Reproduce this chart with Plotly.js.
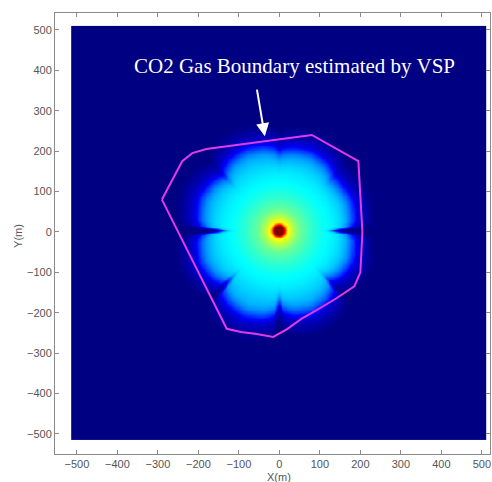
<!DOCTYPE html>
<html><head><meta charset="utf-8">
<script src="https://cdn.plot.ly/plotly-3.0.1.min.js"></script>
<style>html,body{margin:0;padding:0;background:#fff;}#chart{width:492px;height:482px;}</style>
</head><body><div id="chart"></div>
<script>
// ---- data ----
const tickValues = [-500, -400, -300, -200, -100, 0, 100, 200, 300, 400, 500];
const boundaryX = [-290, -240, -215, -180, 80, 195, 205, 200, 185, 140, 90, 55, 20, -15, -60, -95, -130, -290];
const boundaryY = [80, 175, 195, 205, 240, 175, 0, -100, -135, -165, -195, -215, -240, -260, -252, -248, -240, 80];
const plumeCenter = [-2, 4];
// value (0..1, jet) against radius relative to the local plume radius
const profileS = [0, 0.055, 0.07, 0.085, 0.1, 0.15, 0.25, 0.4, 0.55, 0.7, 0.8, 0.88, 0.94, 1.0, 1.05, 1.1, 1.2, 1.3];
const profileZ = [1.0, 1.0, 0.9, 0.75, 0.64, 0.57, 0.48, 0.42, 0.38, 0.355, 0.33, 0.3, 0.26, 0.19, 0.12, 0.07, 0.03, 0];
// plume edge radius (m) against direction (deg), with the dents between lobes and the two streaks at 0 and 180 deg
const lobeAngle = [0, 1, 2.8, 8, 22.5, 35, 42, 45, 48, 55, 67.5, 80, 87, 90, 93, 100, 112.5, 125, 132, 135, 138, 145, 157.5, 172, 177.2, 179, 180, 181, 182.8, 188, 202.5, 215, 222, 225, 228, 235, 247.5, 260, 267, 270, 273, 280, 292.5, 305, 312, 315, 318, 325, 337.5, 352, 357.2, 359, 360];
const lobeRadius = [132, 132, 174, 184, 190, 186, 186, 184, 192, 200, 205, 201, 196, 190, 200, 207, 212, 207, 197, 184, 192, 200, 205, 197, 186, 136, 136, 136, 186, 197, 205, 199, 189, 168, 204, 215, 222, 215, 204, 172, 195, 206, 212, 206, 195, 168, 177, 186, 192, 185, 175, 132, 132];
const gridStart = -512, gridStep = 4, gridCount = 256;
const labelText = 'CO2 Gas Boundary estimated by VSP';

// ---- build field ----
function interp(xs, ys, v) {
  if (v <= xs[0]) return ys[0];
  if (v >= xs[xs.length - 1]) return ys[ys.length - 1];
  for (let i = 1; i < xs.length; i++) {
    if (v <= xs[i]) {
      const t = (v - xs[i - 1]) / (xs[i] - xs[i - 1]);
      return ys[i - 1] + t * (ys[i] - ys[i - 1]);
    }
  }
  return ys[ys.length - 1];
}
const gx = [], gy = [];
for (let i = 0; i < gridCount; i++) { gx.push(gridStart + gridStep * i); gy.push(gridStart + gridStep * i); }
const baseRadius = 205;
const z = [];
for (let j = 0; j < gridCount; j++) {
  const row = [];
  for (let i = 0; i < gridCount; i++) {
    const dx = gx[i] - plumeCenter[0], dy = gy[j] - plumeCenter[1];
    const r = Math.hypot(dx, dy);
    let th = Math.atan2(dy, dx) * 180 / Math.PI; if (th < 0) th += 360;
    const ra = interp(lobeAngle, lobeRadius, th);
    const w = Math.min(1, Math.max(0, (r - 0.7 * ra) / 40));
    const reff = baseRadius + (ra - baseRadius) * w;
    row.push(interp(profileS, profileZ, r / reff));
  }
  z.push(row);
}

const jet = [[0, 'rgb(0,0,131)'], [0.125, 'rgb(0,0,255)'], [0.375, 'rgb(0,255,255)'], [0.625, 'rgb(255,255,0)'], [0.875, 'rgb(255,0,0)'], [1, 'rgb(128,0,0)']];

const traces = [
  { type: 'heatmap', x: gx, y: gy, z: z, zmin: 0, zmax: 1, colorscale: jet, showscale: false, zsmooth: 'best', hoverinfo: 'skip' },
  { type: 'scatter', mode: 'lines', x: boundaryX, y: boundaryY, line: { color: '#e23be6', width: 2 }, hoverinfo: 'skip' }
];

const axisCommon = {
  showgrid: false, zeroline: false, showline: true, linecolor: '#8a8a8a', linewidth: 1,
  mirror: 'ticks', ticks: 'inside', ticklen: 4, tickcolor: '#8a8a8a',
  tickvals: tickValues, tickfont: { family: 'Liberation Sans, Arial, sans-serif', size: 11, color: '#555' }
};

const layout = {
  width: 492, height: 482,
  margin: { l: 55, r: 2, t: 13, b: 28 },
  paper_bgcolor: '#fff', plot_bgcolor: '#fff',
  showlegend: false,
  xaxis: Object.assign({}, axisCommon, { range: [-554, 520] }),
  yaxis: Object.assign({}, axisCommon, { range: [-550, 542] }),
  annotations: [
    { xref: 'x', yref: 'y', x: 37, y: 411, text: labelText, showarrow: false,
      font: { family: 'Liberation Serif, Times New Roman, serif', size: 21, color: '#fff' } },
    { xref: 'x', yref: 'y', x: -36, y: 237, ax: -56, ay: 356, axref: 'x', ayref: 'y', text: '',
      showarrow: true, arrowcolor: '#fff', arrowwidth: 2, arrowhead: 2, arrowsize: 1.3 },
    { xref: 'x', yref: 'paper', x: 0, y: -0.053, xanchor: 'center', yanchor: 'middle', text: 'X(m)', showarrow: false,
      font: { family: 'Liberation Sans, Arial, sans-serif', size: 11, color: '#555' } },
    { xref: 'paper', yref: 'y', x: -0.085, y: -10, xanchor: 'center', yanchor: 'middle', text: 'Y(m)', showarrow: false, textangle: -90,
      font: { family: 'Liberation Sans, Arial, sans-serif', size: 11, color: '#555' } }
  ]
};

Plotly.newPlot('chart', traces, layout, { displayModeBar: false, staticPlot: true });
</script>
</body></html>
